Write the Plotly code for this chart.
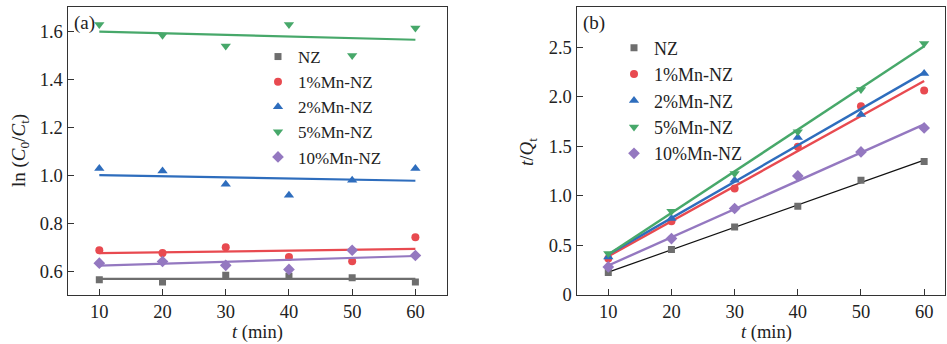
import numpy as np
import plotly.graph_objects as go

# ---------------- data ----------------
t_min = [10, 20, 30, 40, 50, 60]
series_names = ["NZ", "1%Mn-NZ", "2%Mn-NZ", "5%Mn-NZ", "10%Mn-NZ"]

# panel (a): ln(C0/Ct)
ln_nz = [0.564, 0.554, 0.582, 0.578, 0.572, 0.554]
ln_mn1 = [0.687, 0.675, 0.699, 0.659, 0.641, 0.741]
ln_mn2 = [1.028, 1.018, 0.963, 0.917, 0.979, 1.028]
ln_mn5 = [1.630, 1.585, 1.540, 1.630, 1.500, 1.615]
ln_mn10 = [0.633, 0.640, 0.624, 0.607, 0.687, 0.665]

# panel (b): t/Qt
tq_nz = [0.226, 0.458, 0.686, 0.895, 1.157, 1.346]
tq_mn1 = [0.367, 0.744, 1.074, 1.494, 1.904, 2.062]
tq_mn2 = [0.384, 0.771, 1.157, 1.588, 1.820, 2.234]
tq_mn5 = [0.418, 0.845, 1.225, 1.645, 2.073, 2.537]
tq_mn10 = [0.283, 0.569, 0.872, 1.201, 1.443, 1.685]

ya_ticks = [0.6, 0.8, 1.0, 1.2, 1.4, 1.6]
yb_ticks = [0, 0.5, 1.0, 1.5, 2.0, 2.5]
yb_ticktext = ["0", "0.5", "1.0", "1.5", "2.0", "2.5"]
x_ticks = [10, 20, 30, 40, 50, 60]

# ---------------- style ----------------
colors = ["#6e6e6e", "#e84a50", "#2e6dbd", "#47a86a", "#9478c0"]
symbols = ["square", "circle", "triangle-up", "triangle-down", "diamond"]
msizes = [7, 8, 9, 9, 9]
FONT = "Liberation Serif, Times New Roman, serif"
AX = "#333333"

W, H = 947, 344
fig = go.Figure()

panel_a = [ln_nz, ln_mn1, ln_mn2, ln_mn5, ln_mn10]
panel_b = [tq_nz, tq_mn1, tq_mn2, tq_mn5, tq_mn10]
fit_x = [10, 60]

for i, name in enumerate(series_names):
    coef = np.polyfit(t_min, panel_a[i], 1)
    fig.add_trace(go.Scatter(x=fit_x, y=np.polyval(coef, fit_x), mode="lines",
                             line=dict(color=colors[i], width=2.2),
                             showlegend=False, hoverinfo="skip",
                             xaxis="x", yaxis="y"))
    fig.add_trace(go.Scatter(x=t_min, y=panel_a[i], mode="markers", name=name,
                             marker=dict(color=colors[i], symbol=symbols[i], size=msizes[i]),
                             legend="legend", xaxis="x", yaxis="y"))

for i, name in enumerate(series_names):
    coef = np.polyfit(t_min, panel_b[i], 1)
    lc = "#111111" if i == 0 else colors[i]
    lw = 1.2 if i == 0 else 2.4
    fig.add_trace(go.Scatter(x=fit_x, y=np.polyval(coef, fit_x), mode="lines",
                             line=dict(color=lc, width=lw),
                             showlegend=False, hoverinfo="skip",
                             xaxis="x2", yaxis="y2"))
    fig.add_trace(go.Scatter(x=t_min, y=panel_b[i], mode="markers", name=name,
                             marker=dict(color=colors[i], symbol=symbols[i], size=msizes[i]),
                             legend="legend2", xaxis="x2", yaxis="y2"))

top_px, bot_px = 7, 295
ydom = [(H - bot_px) / H, (H - top_px) / H]

axis_common = dict(showgrid=False, zeroline=False, showline=True, linecolor=AX,
                   linewidth=1.3, mirror=True, ticks="inside", ticklen=6,
                   tickwidth=1.3, tickcolor=AX, automargin=False,
                   tickfont=dict(family=FONT, size=18.5, color="#222222"))

fig.update_layout(
    width=W, height=H,
    margin=dict(l=0, r=0, t=0, b=0, autoexpand=False),
    paper_bgcolor="white", plot_bgcolor="white",
    font=dict(family=FONT, size=19, color="#222222"),
    xaxis=dict(domain=[67.7 / W, 447 / W], range=[5, 65], tickvals=x_ticks,
               anchor="y", **axis_common),
    yaxis=dict(domain=ydom, range=[0.5, 1.703], tickvals=ya_ticks, tickformat=".1f",
               anchor="x", **axis_common),
    xaxis2=dict(domain=[576.7 / W, 945 / W], range=[5, 63.3], tickvals=x_ticks,
                anchor="y2", **axis_common),
    yaxis2=dict(domain=ydom, range=[0, 2.904], tickvals=yb_ticks, ticktext=yb_ticktext,
                anchor="x2", **axis_common),
    legend=dict(x=258 / W, y=(H - 39) / H, xanchor="left", yanchor="top",
                bgcolor="rgba(0,0,0,0)", font=dict(family=FONT, size=17, color="#222222"),
                tracegroupgap=0),
    legend2=dict(x=614 / W, y=(H - 29.5) / H, xanchor="left", yanchor="top",
                 bgcolor="rgba(0,0,0,0)", font=dict(family=FONT, size=18, color="#222222"),
                 tracegroupgap=0),
    annotations=[
        dict(text="(a)", x=72 / W, y=(H - 23) / H, xref="paper", yref="paper",
             xanchor="left", yanchor="middle", showarrow=False, font=dict(size=19)),
        dict(text="(b)", x=581 / W, y=(H - 23) / H, xref="paper", yref="paper",
             xanchor="left", yanchor="middle", showarrow=False, font=dict(size=19)),
        dict(text="ln (<i>C</i><sub>0</sub>/<i>C</i><sub>t</sub>)", x=20 / W, y=(H - 151) / H,
             xref="paper", yref="paper", xanchor="center", yanchor="middle",
             textangle=-90, showarrow=False, font=dict(size=19)),
        dict(text="<i>t</i>/<i>Q</i><sub>t</sub>", x=528 / W, y=(H - 152) / H,
             xref="paper", yref="paper", xanchor="center", yanchor="middle",
             textangle=-90, showarrow=False, font=dict(size=19)),
        dict(text="<i>t</i> (min)", x=257 / W, y=(H - 332) / H, xref="paper", yref="paper",
             xanchor="center", yanchor="middle", showarrow=False, font=dict(size=18.5)),
        dict(text="<i>t</i> (min)", x=766 / W, y=(H - 332) / H, xref="paper", yref="paper",
             xanchor="center", yanchor="middle", showarrow=False, font=dict(size=18.5)),
    ],
)

fig.write_html("out.html", config={"displayModeBar": False},
               post_script="document.body.style.margin='0';")
